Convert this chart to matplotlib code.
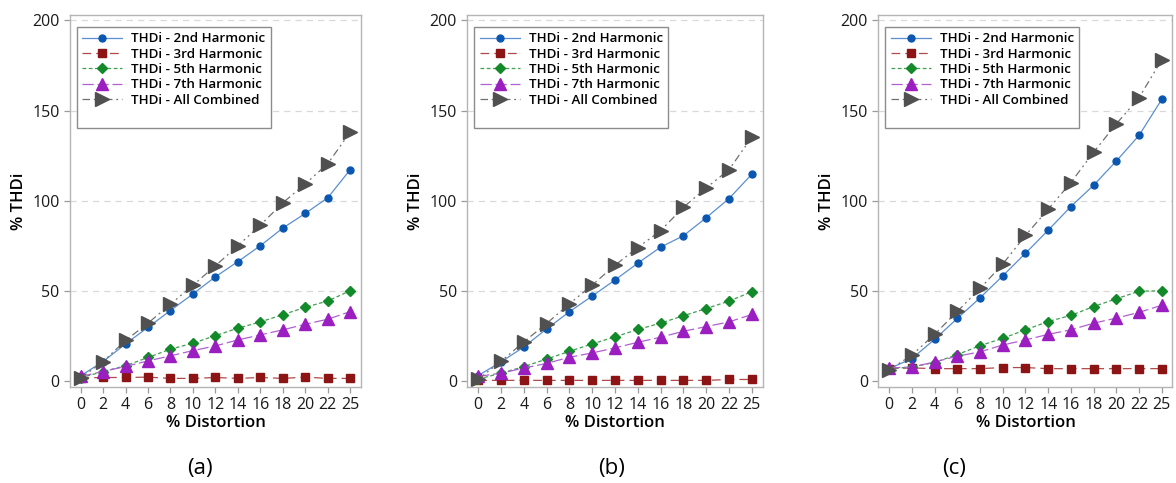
import matplotlib
matplotlib.use('Agg')
import matplotlib.pyplot as plt
from matplotlib.lines import Line2D

plt.rcParams['font.family'] = ['Open Sans', 'DejaVu Sans']

# x-axis categories (% distortion)
distortion = ['0', '2', '4', '6', '8', '10', '12', '14', '16', '18', '20', '22', '25']

# panel (a)
a_2nd = [3.1, 11.0, 20.8, 30.0, 39.3, 48.5, 58.0, 66.4, 75.2, 85.0, 93.1, 101.8, 117.4]
a_3rd = [2.0, 2.2, 2.2, 2.4, 1.7, 1.7, 2.2, 1.7, 2.2, 1.7, 2.4, 1.7, 1.7]
a_5th = [2.0, 5.5, 8.7, 13.3, 17.9, 21.2, 25.4, 29.5, 33.0, 37.0, 41.1, 44.6, 50.3]
a_7th = [2.8, 5.5, 8.3, 11.4, 14.2, 17.1, 19.7, 23.0, 25.8, 28.6, 31.7, 34.5, 38.7]
a_all = [1.8, 11.0, 22.7, 32.3, 42.8, 53.3, 64.1, 75.2, 86.6, 99.0, 109.5, 120.7, 138.2]

# panel (b)
b_2nd = [3.3, 10.8, 19.1, 29.1, 38.6, 47.3, 56.2, 65.5, 74.4, 80.7, 90.7, 101.3, 114.8]
b_3rd = [0.6, 0.6, 0.6, 0.6, 0.6, 0.6, 0.6, 0.6, 0.6, 0.6, 0.6, 1.1, 1.1]
b_5th = [1.3, 4.6, 8.2, 12.4, 16.7, 20.8, 24.7, 28.8, 32.3, 36.4, 40.4, 44.5, 49.7]
b_7th = [2.8, 4.6, 7.4, 10.0, 13.4, 15.8, 18.6, 21.7, 24.5, 27.8, 30.4, 33.0, 37.1]
b_all = [1.3, 11.1, 21.9, 32.1, 43.0, 53.4, 64.4, 74.2, 83.5, 96.5, 107.2, 117.3, 135.3]

# panel (c)
c_2nd = [7.1, 12.7, 23.3, 34.9, 46.3, 58.5, 71.0, 83.8, 96.9, 108.7, 122.1, 136.3, 156.3]
c_3rd = [7.1, 7.5, 7.1, 7.1, 7.1, 7.7, 7.7, 7.1, 7.1, 7.1, 7.1, 7.1, 7.1]
c_5th = [7.1, 8.0, 10.5, 14.9, 19.8, 23.9, 28.6, 33.2, 36.6, 41.5, 45.8, 50.0, 50.2]
c_7th = [7.5, 8.0, 10.8, 14.0, 16.4, 20.2, 23.0, 26.1, 28.6, 32.3, 35.1, 38.3, 42.2]
c_all = [6.5, 14.6, 26.1, 38.8, 51.5, 65.0, 80.9, 95.4, 110.2, 127.0, 142.7, 157.2, 178.2]

labels = ['THDi - 2nd Harmonic', 'THDi - 3rd Harmonic', 'THDi - 5th Harmonic',
          'THDi - 7th Harmonic', 'THDi - All Combined']

# (line colour, marker colour, marker, size, linestyle)
styles = [
    ('#5b8fd0', '#0b57b0', 'o', 5, '-'),
    ('#b04a4a', '#8c1414', 's', 6, (0, (7, 4))),
    ('#3fa050', '#138a2a', 'D', 5, (0, (3, 2))),
    ('#b060d0', '#9a1ec0', '^', 9, (0, (9, 3))),
    ('#707070', '#505050', '>', 10, (0, (6, 3, 1.5, 3, 1.5, 3))),
]

panels = [
    ([a_2nd, a_3rd, a_5th, a_7th, a_all], [0.0595, 0.199, 0.2474, 0.770], '(a)', 0.170),
    ([b_2nd, b_3rd, b_5th, b_7th, b_all], [0.3975, 0.199, 0.2509, 0.770], '(b)', 0.520),
    ([c_2nd, c_3rd, c_5th, c_7th, c_all], [0.7470, 0.199, 0.2500, 0.770], '(c)', 0.811),
]

fig = plt.figure(figsize=(11.76, 4.83), dpi=100)

xs = list(range(len(distortion)))
for series, rect, caption, cap_x in panels:
    ax = fig.add_axes(rect)
    for vals, lab, (lc, mc, mk, ms, ls) in zip(series, labels, styles):
        ax.plot(xs, vals, color=lc, linestyle=ls, linewidth=0.9,
                marker=mk, markersize=ms, markerfacecolor=mc, markeredgecolor=mc,
                label=lab)

    ax.set_xlim(-0.47, 12.47)
    ax.set_ylim(-3, 203)
    ax.set_xticks(xs)
    ax.set_xticklabels(distortion)
    ax.set_yticks([0, 50, 100, 150, 200])
    for y in [50, 100, 150, 200]:
        ax.axhline(y, color='#d9d9d9', linestyle=(0, (5, 4)), linewidth=0.9, zorder=0)
    for s in ax.spines.values():
        s.set_color('#b4b4b4')
        s.set_linewidth(1.0)
    ax.tick_params(colors='#9a9a9a', labelcolor='#1a1a1a', labelsize=11.5,
                   length=4, width=0.9)
    ax.set_xlabel('% Distortion', fontsize=12, fontweight='semibold', labelpad=1)
    ax.set_ylabel('% THDi', fontsize=12, fontweight='semibold', labelpad=4)

    # blank last row leaves the empty strip at the bottom of the legend box
    handles, labs = ax.get_legend_handles_labels()
    handles.append(Line2D([], [], linestyle='none'))
    labs.append(' ')
    leg = ax.legend(handles, labs, loc='upper left', bbox_to_anchor=(0.023, 0.968),
                    borderaxespad=0, prop={'weight': 'semibold', 'size': 9.6},
                    handlelength=3.0, handletextpad=0.7, labelspacing=0.18,
                    fancybox=False, framealpha=1, edgecolor='#8c8c8c')
    leg.get_frame().set_linewidth(1.0)

    fig.text(cap_x, 0.031, caption, ha='center', va='center', fontsize=16)

fig.savefig('out.png', dpi=100)
